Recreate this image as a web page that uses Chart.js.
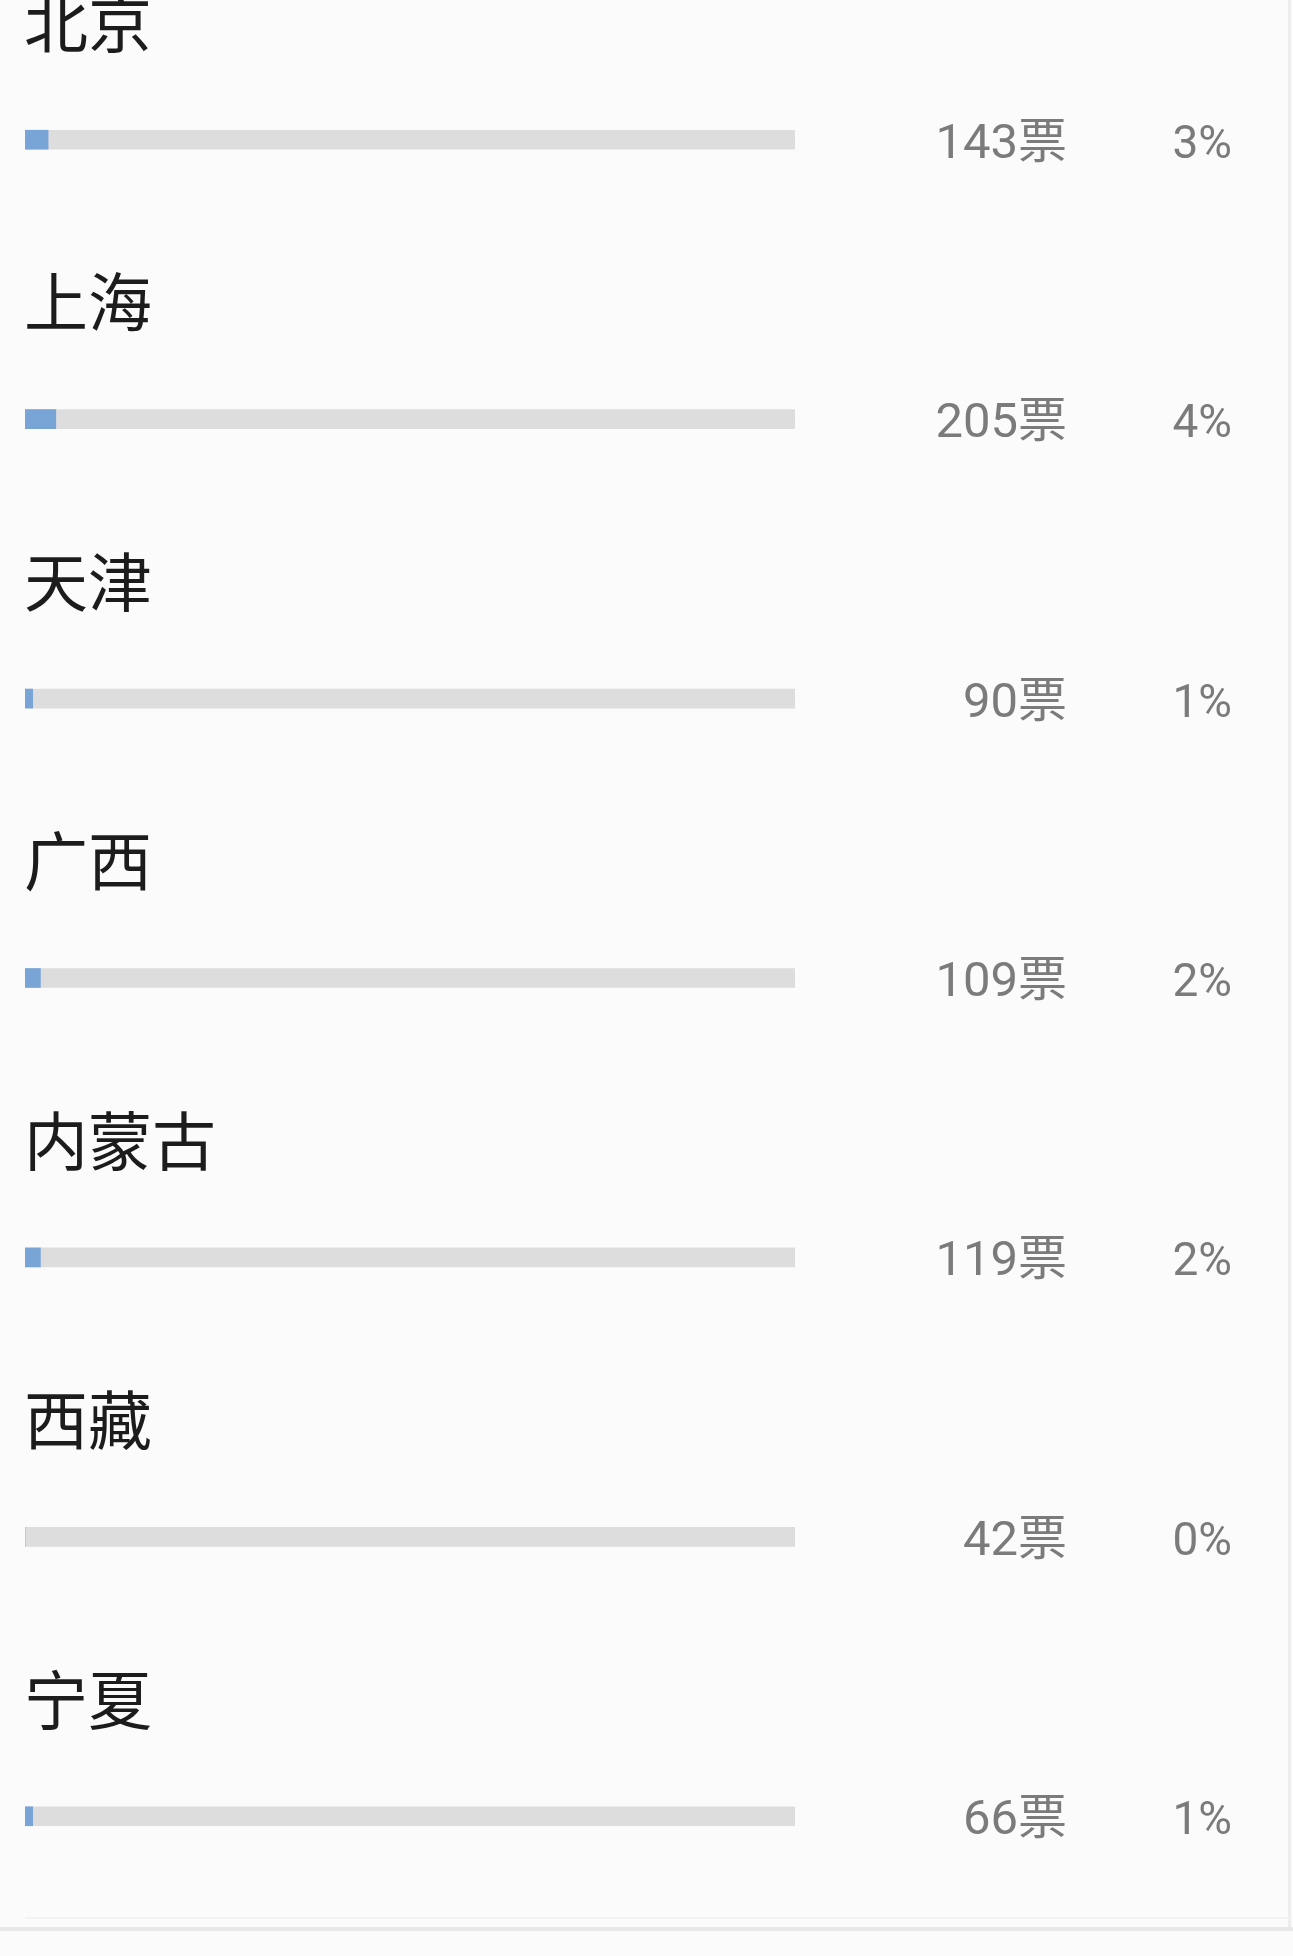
<!DOCTYPE html>
<html>
<head>
<meta charset="utf-8">
<script src="https://cdn.jsdelivr.net/npm/chart.js@4"></script>
<style>
  html, body { margin: 0; padding: 0; background: #fbfbfb; }
  #wrap { width: 1293px; height: 1956px; position: relative; }
  canvas { display: block; }
</style>
</head>
<body>
<div id="wrap"><canvas id="c" width="1293" height="1956"></canvas></div>
<script>
// ---- data ----
const categories = ['北京', '上海', '天津', '广西', '内蒙古', '西藏', '宁夏'];
const votes = [143, 205, 90, 109, 119, 42, 66];
const percents = [3, 4, 1, 2, 2, 0, 1];
const trackValues = [100, 100, 100, 100, 100, 100, 100];
const voteLabels = votes.map(v => v + '票');
const percentLabels = percents.map(p => p + '%');

const rowText = {
  id: 'rowText',
  beforeDraw(chart) {
    const ctx = chart.ctx;
    ctx.save();
    ctx.fillStyle = '#fbfbfb';
    ctx.fillRect(0, 0, chart.width, chart.height);
    // right border
    ctx.fillStyle = '#ededed';
    ctx.fillRect(1288, 0, 3, 1928);
    // bottom separators
    ctx.fillStyle = '#f3f3f3';
    ctx.fillRect(25, 1917, 1265, 2);
    ctx.fillStyle = '#e8e8e8';
    ctx.fillRect(0, 1927, 1293, 4);
    ctx.restore();
  },
  afterDatasetsDraw(chart) {
    const ctx = chart.ctx;
    const meta = chart.getDatasetMeta(1);
    meta.data.forEach((bar, i) => {
      const y = bar.y;
      ctx.save();
      ctx.fillStyle = '#1c1c1c';
      ctx.font = '64px "Noto Sans CJK SC"';
      ctx.textAlign = 'left';
      ctx.textBaseline = 'middle';
      ctx.fillText(categories[i], 24, y - 117);

      ctx.fillStyle = '#7b7b7b';
      ctx.textAlign = 'right';
      ctx.textBaseline = 'alphabetic';
      ctx.font = '49px Roboto, "Noto Sans CJK SC"';
      ctx.fillText(voteLabels[i], 1067, y + 18);
      ctx.font = '46px Roboto';
      ctx.fillText(percentLabels[i], 1232, y + 18);
      ctx.restore();
    });
  }
};

function build() {
  new Chart(document.getElementById('c'), {
    type: 'bar',
    data: {
      labels: categories,
      datasets: [
        {
          label: '得票率',
          data: percents,
          backgroundColor: '#78a5d6',
          barThickness: 19,
          grouped: false,
          borderWidth: 0
        },
        {
          label: 'track',
          data: trackValues,
          backgroundColor: '#dddddd',
          barThickness: 19,
          grouped: false,
          borderWidth: 0
        }
      ]
    },
    options: {
      indexAxis: 'y',
      responsive: false,
      animation: false,
      devicePixelRatio: 1,
      layout: { padding: { left: 25, right: 498, top: 0, bottom: 0 } },
      plugins: {
        legend: { display: false },
        tooltip: { enabled: false },
        title: { display: false }
      },
      scales: {
        x: { display: false, min: 0, max: 100 },
        y: { display: false }
      }
    },
    plugins: [rowText]
  });
}

if (document.fonts && document.fonts.load) {
  Promise.all([
    document.fonts.load('64px "Noto Sans CJK SC"', '北京'),
    document.fonts.load('49px Roboto', '0123')
  ]).then(build, build);
} else {
  build();
}
</script>
</body>
</html>
